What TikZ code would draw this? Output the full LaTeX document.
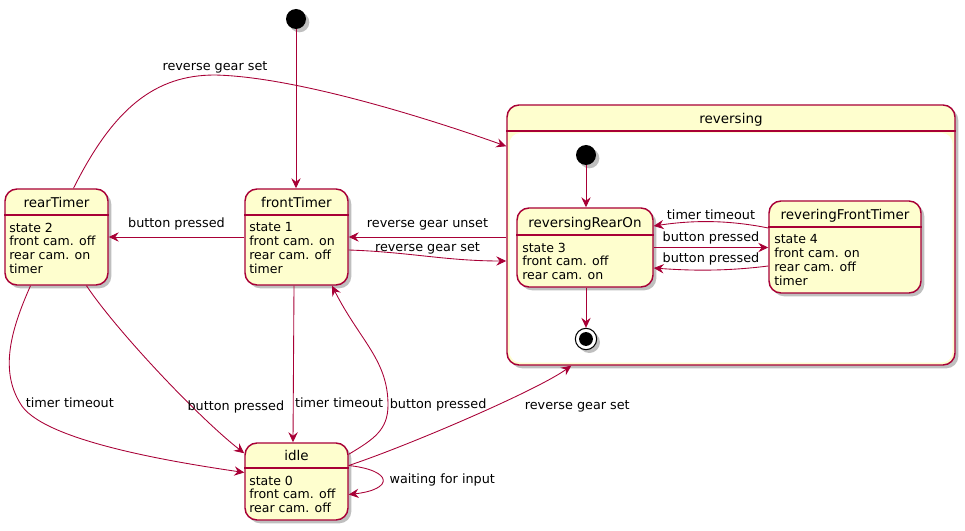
\documentclass[tikz,border=0pt]{standalone}
\usepackage{fontspec}
\setmainfont{DejaVu Sans}
\usetikzlibrary{shapes, arrows.meta, positioning, fit, calc, shadows}
\definecolor{umlred}{HTML}{A80036}
\definecolor{umlfill}{HTML}{FEFECE}
\tikzstyle{statebox} = [rectangle, rounded corners=9pt, draw=umlred, line width=1.1pt, fill=umlfill, inner sep=0pt, drop shadow={shadow xshift=2.5pt, shadow yshift=-2.5pt, opacity=0.25, fill=black}]
\tikzstyle{divider} = [draw=umlred, line width=1.1pt]
\tikzstyle{title} = [font=\fontsize{10.1}{12}\selectfont, inner sep=0pt, text depth=0pt]
\tikzstyle{body} = [font=\fontsize{9.4}{10.3}\selectfont, align=left, inner sep=0pt, anchor=north west]
\tikzstyle{lab} = [font=\fontsize{9.6}{11}\selectfont, inner sep=1pt]
\tikzstyle{startdot} = [circle, fill=black, minimum size=15pt, inner sep=0pt, drop shadow={shadow xshift=2.5pt, shadow yshift=-2.5pt, opacity=0.25, fill=black}]
\tikzstyle{enddot} = [circle, draw=black, line width=0.8pt, fill=white, minimum size=16pt, inner sep=0pt, drop shadow={shadow xshift=2.5pt, shadow yshift=-2.5pt, opacity=0.25, fill=black}, path picture={\fill[black] (path picture bounding box.center) circle (5.2pt);}]
\tikzstyle{transition} = [draw=umlred, line width=0.65pt, -{Stealth[length=7.5pt, width=7pt, inset=2.6pt]}]

\begin{document}
\begin{tikzpicture}[x=0.75pt, y=-0.75pt]
\useasboundingbox (0,0) rectangle (965,531);

% outer states
\node (start) [startdot] at (296,19) {};

\node (rear) [statebox, fit={(5,189) (108,285)}] {};
\draw [divider] (rear.west |- 0,215) -- (rear.east |- 0,215);
\node (rearName) [title] at (56.5,202) {rearTimer};
\node (rearText) [body] at (9,222.5) {state 2\\front cam. off\\rear cam. on\\timer};

\node (front) [statebox, fit={(245,189) (348,285)}] {};
\draw [divider] (front.west |- 0,215) -- (front.east |- 0,215);
\node (frontName) [title] at (296.5,202) {frontTimer};
\node (frontText) [body] at (249,222.5) {state 1\\front cam. on\\rear cam. off\\timer};

\node (idle) [statebox, fit={(245,443) (348,520)}] {};
\draw [divider] (idle.west |- 0,468) -- (idle.east |- 0,468);
\node (idleName) [title] at (296.5,455) {idle};
\node (idleText) [body] at (249,475.5) {state 0\\front cam. off\\rear cam. off};

% composite state
\node (rev) [statebox, fit={(507,105) (955,365)}] {};
\draw [divider] (rev.west |- 0,131) -- (rev.east |- 0,131);
\node (revName) [title] at (731,118) {reversing};
\fill [white, rounded corners=8pt] (509.5,133) rectangle (952.5,362.5);

\node (istart) [startdot] at (586,155) {};

\node (rearOn) [statebox, fit={(517,208) (653,287)}] {};
\draw [divider] (rearOn.west |- 0,235) -- (rearOn.east |- 0,235);
\node (rearOnName) [title] at (585,222) {reversingRearOn};
\node (rearOnText) [body] at (522,242.5) {state 3\\front cam. off\\rear cam. on};

\node (rft) [statebox, fit={(769,201) (921,293)}] {};
\draw [divider] (rft.west |- 0,227) -- (rft.east |- 0,227);
\node (rftName) [title] at (845,214) {reveringFrontTimer};
\node (rftText) [body] at (774,234.5) {state 4\\front cam. on\\rear cam. off\\timer};

\node (istop) [enddot] at (586,339) {};

% transitions
\draw [transition] (start) -- (start |- front.north);
\draw [transition] (front.west) -- node[lab, above, yshift=4pt] {button pressed} (rear.east);
\draw [transition] (front.east -| rev.west) -- node[lab, above, yshift=4pt] {reverse gear unset} (front.east);
\draw [transition] ($(front.east)+(0,13)$) .. controls +(60,2) and +(-60,0) .. node[lab, above] {reverse gear set} ($(front.east -| rev.west)+(0,24)$);
\draw [transition] ($(rear.north)+(17,0)$) .. controls +(40,-80) and +(-60,0) .. (215,75) node[lab, above] {reverse gear set} .. controls +(90,2) and +(-50,-18) .. ($(rev.north west)+(0,42)$);
\draw [transition] ($(rear.south)+(-26,0)$) .. controls +(-20,45) and +(-20,-33) .. (20,403) node[lab, right=3pt] {timer timeout} .. controls +(20,37) and +(-75,-11) .. ($(idle.west)+(0,-9)$);
\draw [transition] ($(rear.south)+(30,0)$) .. controls +(30,45) and +(-45,-35) .. node[lab, pos=0.68, anchor=west, xshift=-5pt] {button pressed} ($(idle.north west)+(0,11)$);
\draw [transition] ($(front.south)+(-2.5,0)$) -- node[lab, pos=0.75, anchor=west] {timer timeout} ($(idle.north)+(-3.5,0)$);
\draw [transition] ($(idle.north east)+(0,12)$) .. controls +(25,-15) and +(0,25) .. (388,405) node[lab, right] {button pressed} .. controls +(0,-45) and +(28,55) .. ($(front.south)+(35.5,0)$);
\draw [transition] ($(idle.east)+(0,-16)$) .. controls +(60,-20) and +(-35,25) .. node[lab, pos=0.6, anchor=west, xshift=21pt] {reverse gear set} ($(rev.south west)+(65,0)$);
\draw [transition] ($(idle.east)+(0,-16)$) .. controls +(45,5) and +(45,-5) .. node[lab, right=4pt] {waiting for input} ($(idle.east)+(0,13)$);

% inside reversing
\draw [transition] (istart) -- (istart |- rearOn.north);
\draw [transition] (istop |- rearOn.south) -- (istop);
\draw [transition] ($(rft.west)+(0,-19)$) .. controls +(-40,-8) and +(40,-6) .. node[lab, above] {timer timeout} ($(rearOn.east)+(0,-21.5)$);
\draw [transition] (rearOn.east) -- node[lab, above, yshift=1pt] {button pressed} (rearOn.east -| rft.west);
\draw [transition] ($(rft.west)+(0,19)$) .. controls +(-40,5) and +(40,3) .. node[lab, above, yshift=2pt] {button pressed} ($(rearOn.east)+(0,20.5)$);

\end{tikzpicture}
\end{document}
